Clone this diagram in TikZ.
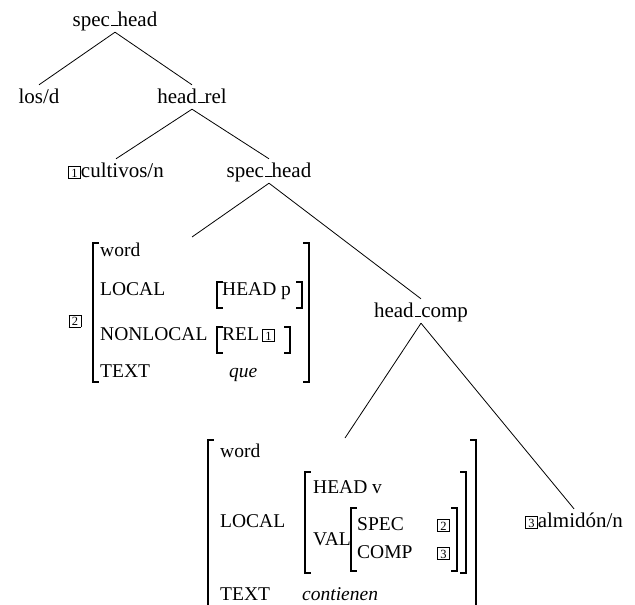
\documentclass[tikz,border=0pt]{standalone}
\usepackage{fontspec}
\setmainfont{Liberation Serif}
\newcommand\bx[1]{{\setlength{\fboxsep}{1pt}\setlength{\fboxrule}{0.6pt}\fbox{\makebox[9.5pt]{\rule{0pt}{9.5pt}\fontsize{12.5}{12.5}\selectfont #1}}}}
\newcommand\us{\kern.06em\rule{.3em}{0.8pt}}
\begin{document}
\begin{tikzpicture}[x=1pt,y=-1pt,
  tnode/.style={anchor=base, inner xsep=0pt, inner ysep=6pt, text height=12pt, text depth=0pt, font=\fontsize{21}{25}\selectfont},
  lbl/.style={anchor=base west, inner sep=0pt, font=\fontsize{19.5}{23}\selectfont},
  edge/.style={line width=0.8pt},
  br/.style={line width=1.1pt, line cap=rect}]
\useasboundingbox (0,0) rectangle (635,605);

% tree nodes
\node[tnode] (sh1) at (115,26) {spec\us head};
\node[tnode] (los) at (39,103) {los/d};
\node[tnode] (hr) at (192,103) {head\us rel};
\node[tnode] (cul) at (116,177) {\bx{1}cultivos/n};
\node[tnode] (sh2) at (269,177) {spec\us head};
\node[tnode] (hc) at (421,317) {head\us comp};
\node[tnode] (alm) at (574,527) {\bx{3}almid\'on/n};
\coordinate (avmA) at (192,237);
\coordinate (avmB) at (345,438);

% connectors
\draw[edge] (sh1.south) -- (los.north);
\draw[edge] (sh1.south) -- (hr.north);
\draw[edge] (hr.south) -- (cul.north);
\draw[edge] (hr.south) -- (sh2.north);
\draw[edge] (sh2.south) -- (avmA);
\draw[edge] (sh2.south) -- (hc.north);
\draw[edge] (hc.south) -- (avmB);
\draw[edge] (hc.south) -- (alm.north);

% left AVM
\node[inner sep=0pt] (tagA) at (75,321) {\bx{2}};
\draw[br] (98,243) -| (93,382) -- (98,382);
\draw[br] (304,243) -| (309,382) -- (304,382);
\node[lbl] (aw) at (100,256) {word};
\node[lbl] (al) at (100,295) {LOCAL};
\node[lbl] (an) at (100,340) {NONLOCAL};
\node[lbl] (at) at (100,377) {TEXT};
\node[lbl] (ah) at (222,295) {HEAD p};
\node[lbl] (ar) at (222,340) {REL\kern3pt\bx{1}};
\node[lbl] (aq) at (229,377) {\itshape que};
\draw[br] (222,282) -| (217,308) -- (222,308);
\draw[br] (297,282) -| (302,308) -- (297,308);
\draw[br] (222,327) -| (217,353) -- (222,353);
\draw[br] (285,327) -| (290,353) -- (285,353);

% big AVM
\draw[br] (213,440) -| (208,606);
\draw[br] (471,440) -| (476,606);
\node[lbl] (bw) at (220,457) {word};
\node[lbl] (bl) at (220,527) {LOCAL};
\node[lbl] (bt) at (220,600) {TEXT};
\node[lbl] (bc) at (302,600) {\itshape contienen};
\draw[br] (310,472) -| (305,573) -- (310,573);
\draw[br] (461,472) -| (466,573) -- (461,573);
\node[lbl] (bh) at (313,493) {HEAD v};
\node[lbl] (bv) at (313,545) {VAL};
\draw[br] (356,508) -| (351,571) -- (356,571);
\draw[br] (452,508) -| (457,571) -- (452,571);
\node[lbl] (bs) at (357,530) {SPEC};
\node[lbl] (bp) at (357,558) {COMP};
\node[lbl] (b2) at (437,530) {\bx{2}};
\node[lbl] (b3) at (437,558) {\bx{3}};
\end{tikzpicture}
\end{document}
